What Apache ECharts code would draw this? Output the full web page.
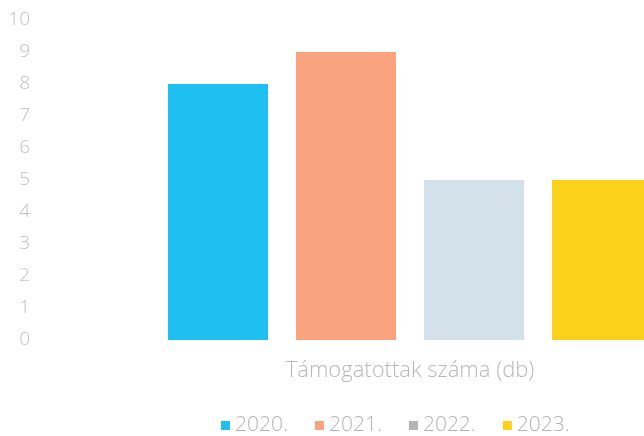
<!DOCTYPE html>
<html>
<head>
<meta charset="utf-8">
<script src="https://cdn.jsdelivr.net/npm/echarts@6/dist/echarts.min.js"></script>
<style>html,body{margin:0;padding:0;background:#fff;}#c{width:644px;height:436px;}</style>
</head>
<body>
<div id="c"></div>
<script>
var categories = ['Támogatottak száma (db)'];
var seriesNames = ['2020.', '2021.', '2022.', '2023.'];
var values2020 = [8];
var values2021 = [9];
var values2022 = [5];
var values2023 = [5];
var barColors = ['#1ec0f2', '#f9a47e', '#d3e2ea', '#fad21a'];
var legendColors = ['#1ec0f2', '#f9a47e', '#b4b4b4', '#fad21a'];
var allValues = [values2020, values2021, values2022, values2023];

var chart = echarts.init(document.getElementById('c'));
var font = "'Open Sans', sans-serif";
chart.setOption({
  animation: false,
  backgroundColor: '#fff',
  grid: { left: 176, right: 0, top: 20, bottom: 96 },
  xAxis: {
    type: 'category',
    data: categories,
    axisLine: { show: false },
    axisTick: { show: false },
    axisLabel: { color: '#b8b8b8', fontSize: 22, fontWeight: 300, fontFamily: font, margin: 20 }
  },
  yAxis: {
    type: 'value',
    min: 0, max: 10, interval: 1,
    splitLine: { show: false },
    axisLine: { show: false },
    axisTick: { show: false },
    axisLabel: { color: '#c0c0c0', fontSize: 19, fontWeight: 300, fontFamily: font, margin: 146 }
  },
  legend: {
    left: 216, top: 410,
    itemWidth: 9, itemHeight: 9, itemGap: 27,
    icon: 'rect',
    textStyle: { color: '#b4b4b4', fontSize: 21, fontWeight: 300, fontFamily: font },
    data: seriesNames.map(function (n, i) { return { name: n, itemStyle: { color: legendColors[i] } }; })
  },
  series: seriesNames.map(function (n, i) {
    return {
      name: n, type: 'bar', data: allValues[i],
      barWidth: 100, barGap: '28%', clip: false,
      itemStyle: { color: barColors[i] }
    };
  })
});
</script>
</body>
</html>
